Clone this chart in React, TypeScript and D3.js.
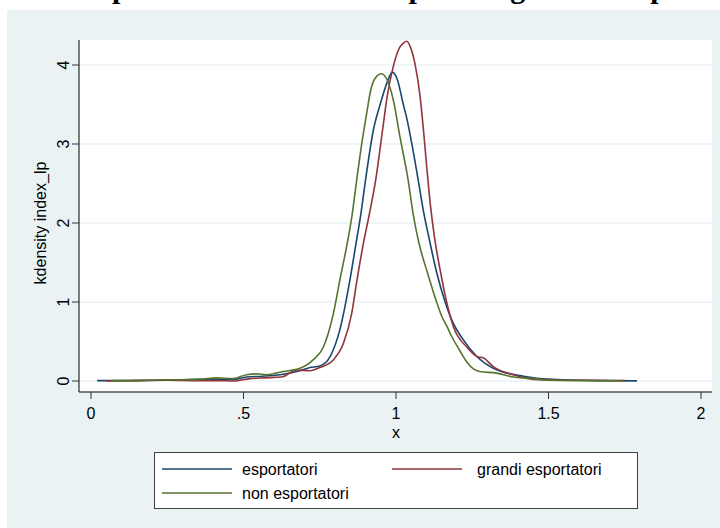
import React from "react";
import * as d3 from "d3";

// kdensity of index_lp: [x, density]
const esportatori: [number, number][] = [
  [0.02, 0.005], [0.1, 0.005], [0.2, 0.01], [0.3, 0.015], [0.357, 0.02], [0.42, 0.02],
  [0.467, 0.02], [0.51, 0.05], [0.56, 0.06], [0.62, 0.08], [0.685, 0.13], [0.718, 0.17],
  [0.75, 0.19], [0.784, 0.31], [0.816, 0.65], [0.849, 1.28], [0.868, 1.72], [0.885, 2.12],
  [0.9, 2.54], [0.926, 3.18], [0.948, 3.5], [0.971, 3.78], [0.988, 3.91], [1.004, 3.82],
  [1.024, 3.5], [1.035, 3.33], [1.051, 3.02], [1.073, 2.54], [1.09, 2.15], [1.111, 1.76],
  [1.133, 1.38], [1.161, 1.0], [1.183, 0.77], [1.221, 0.52], [1.265, 0.31], [1.319, 0.16],
  [1.363, 0.1], [1.418, 0.06], [1.47, 0.03], [1.55, 0.015], [1.65, 0.005], [1.79, 0.002],
];

const grandiEsportatori: [number, number][] = [
  [0.05, 0.0], [0.15, 0.005], [0.25, 0.01], [0.35, 0.005], [0.42, 0.005], [0.467, 0.0],
  [0.521, 0.03], [0.57, 0.04], [0.625, 0.05], [0.674, 0.14], [0.718, 0.13], [0.75, 0.17],
  [0.795, 0.27], [0.828, 0.48], [0.855, 0.86], [0.871, 1.25], [0.892, 1.72], [0.913, 2.12],
  [0.934, 2.56], [0.956, 3.18], [0.971, 3.6], [0.991, 3.98], [1.008, 4.19], [1.025, 4.28],
  [1.035, 4.3], [1.048, 4.22], [1.062, 4.02], [1.079, 3.6], [1.09, 3.18], [1.101, 2.7],
  [1.113, 2.22], [1.127, 1.8], [1.146, 1.38], [1.166, 1.0], [1.188, 0.69], [1.232, 0.43],
  [1.265, 0.31], [1.287, 0.29], [1.32, 0.18], [1.385, 0.08], [1.45, 0.02], [1.55, 0.01],
  [1.65, 0.01], [1.75, 0.005],
];

const nonEsportatori: [number, number][] = [
  [0.068, 0.005], [0.15, 0.005], [0.25, 0.015], [0.3, 0.015], [0.357, 0.02], [0.412, 0.04],
  [0.467, 0.03], [0.51, 0.08], [0.543, 0.09], [0.576, 0.08], [0.63, 0.12], [0.685, 0.16],
  [0.729, 0.27], [0.762, 0.43], [0.795, 0.86], [0.816, 1.28], [0.838, 1.7], [0.856, 2.1],
  [0.871, 2.54], [0.888, 3.01], [0.904, 3.39], [0.917, 3.68], [0.931, 3.83], [0.953, 3.89],
  [0.971, 3.81], [0.991, 3.56], [1.013, 3.09], [1.04, 2.54], [1.056, 2.12], [1.075, 1.75],
  [1.104, 1.36], [1.133, 1.0], [1.15, 0.82], [1.166, 0.7], [1.183, 0.56], [1.21, 0.38],
  [1.232, 0.24], [1.255, 0.15], [1.275, 0.12], [1.33, 0.1], [1.385, 0.05], [1.44, 0.035],
  [1.5, 0.01], [1.6, 0.005], [1.74, 0.003],
];

const xTicks = [0, 0.5, 1, 1.5, 2];
const xTickLabels = ["0", ".5", "1", "1.5", "2"];
const yTicks = [0, 1, 2, 3, 4];

const series = [
  { name: "esportatori", color: "#1a476f", data: esportatori },
  { name: "grandi esportatori", color: "#90353b", data: grandiEsportatori },
  { name: "non esportatori", color: "#55752f", data: nonEsportatori },
];

const W = 720;
const H = 528;
const bg = "#eaf2f3";
const font = "'Liberation Sans', Arial, sans-serif";

export default function App() {
  const plot = { left: 79, right: 712, top: 40, bottom: 392 };
  const x = d3.scaleLinear().domain([0, 2]).range([91, 701]);
  const y = d3.scaleLinear().domain([0, 4]).range([381, 65]);
  const line = d3
    .line<[number, number]>()
    .x((d) => x(d[0]))
    .y((d) => y(d[1]))
    .curve(d3.curveMonotoneX);

  // legend layout: two columns, two rows
  const legendPos = [
    { lx: 162, ly: 469 },
    { lx: 392, ly: 469 },
    { lx: 162, ly: 493 },
  ];

  return (
    <svg
      width={W}
      height={H}
      style={{ position: "absolute", left: 0, top: 0, display: "block" }}
    >
      <rect x={0} y={0} width={W} height={H} fill="#fff" />
      <rect x={7} y={10} width={W - 7} height={H - 10} fill={bg} />
      <text
        x={-138}
        y={-2}
        fontFamily="'Liberation Serif', 'Times New Roman', serif"
        fontWeight="bold"
        fontSize={30}
        fill="#000"
      >
        Distribuzione della produttività del lavoro per categoria di impresa
      </text>

      <rect
        x={plot.left}
        y={plot.top}
        width={plot.right - plot.left}
        height={plot.bottom - plot.top}
        fill="#fff"
      />
      {yTicks.map((t) => (
        <line
          key={"g" + t}
          x1={plot.left}
          x2={plot.right}
          y1={y(t)}
          y2={y(t)}
          stroke={bg}
          strokeWidth={1.5}
        />
      ))}

      {series.map((s) => (
        <path
          key={s.name}
          d={line(s.data) || ""}
          fill="none"
          stroke={s.color}
          strokeWidth={1.6}
        />
      ))}

      {/* y axis */}
      <line x1={plot.left} x2={plot.left} y1={plot.top} y2={plot.bottom} stroke="#000" />
      {yTicks.map((t) => (
        <g key={"y" + t}>
          <line x1={plot.left - 7} x2={plot.left} y1={y(t)} y2={y(t)} stroke="#333" />
          <text
            transform={`translate(${69},${y(t)}) rotate(-90)`}
            textAnchor="middle"
            fontFamily={font}
            fontSize={16}
          >
            {t}
          </text>
        </g>
      ))}
      <text
        transform={`translate(46,${(y(0) + y(4)) / 2}) rotate(-90)`}
        textAnchor="middle"
        fontFamily={font}
        fontSize={16}
      >
        kdensity index_lp
      </text>

      {/* x axis */}
      <line x1={plot.left} x2={plot.right} y1={plot.bottom} y2={plot.bottom} stroke="#000" />
      {xTicks.map((t, i) => (
        <g key={"x" + t}>
          <line x1={x(t)} x2={x(t)} y1={plot.bottom} y2={plot.bottom + 7} stroke="#333" />
          <text
            x={x(t)}
            y={419}
            textAnchor="middle"
            fontFamily={font}
            fontSize={16}
          >
            {xTickLabels[i]}
          </text>
        </g>
      ))}
      <text x={(x(0) + x(2)) / 2} y={438} textAnchor="middle" fontFamily={font} fontSize={16}>
        x
      </text>

      {/* legend */}
      <rect x={154.5} y={452.5} width={483} height={56} fill="#fff" stroke="#404040" />
      {series.map((s, i) => (
        <g key={"l" + s.name}>
          <line
            x1={legendPos[i].lx}
            x2={legendPos[i].lx + 70}
            y1={legendPos[i].ly}
            y2={legendPos[i].ly}
            stroke={s.color}
            strokeWidth={1.6}
          />
          <text
            x={legendPos[i].lx + (i === 1 ? 85 : 80)}
            y={legendPos[i].ly + 6}
            fontFamily={font}
            fontSize={16}
          >
            {s.name}
          </text>
        </g>
      ))}
    </svg>
  );
}
